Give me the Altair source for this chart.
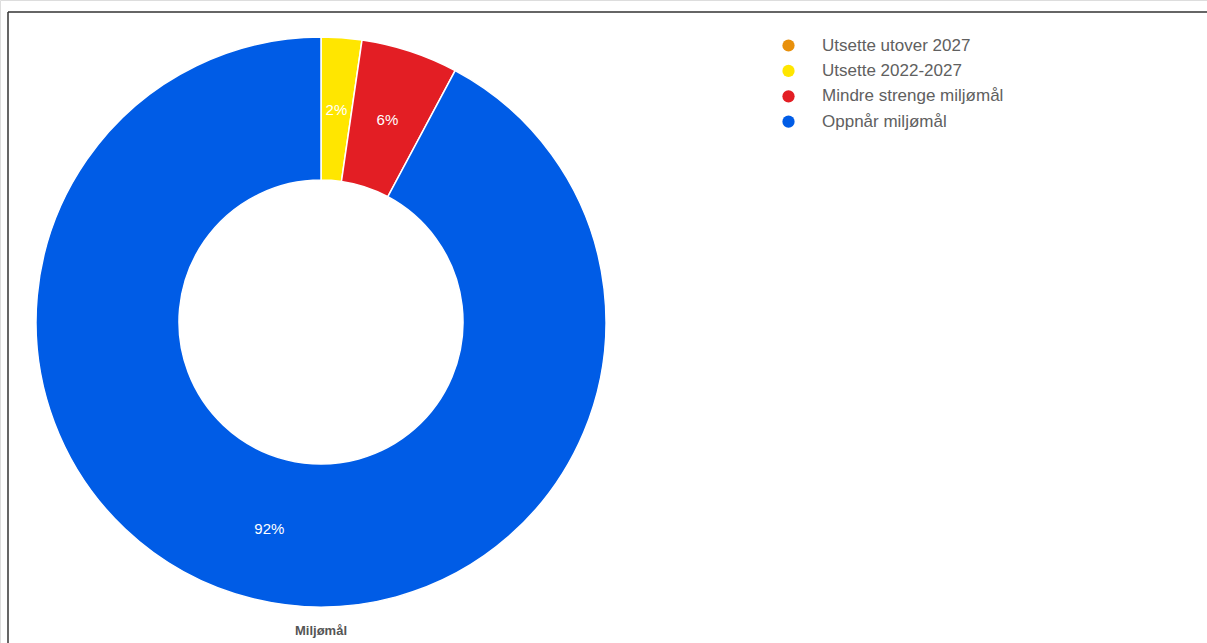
import altair as alt
import pandas as pd

categories = ["Utsette utover 2027", "Utsette 2022-2027", "Mindre strenge miljømål", "Oppnår miljømål"]
shares = [0.0, 2.3, 5.5, 92.2]
labels = ["", "2%", "6%", "92%"]
colors = ["#E8900C", "#FFE600", "#E31E24", "#005CE6"]
axis_title = "Miljømål"

df = pd.DataFrame({"kategori": categories, "andel": shares, "etikett": labels,
                   "rekkefolge": list(range(len(categories)))})

W, H = 1207, 643
cx, cy = 321, 322

color = alt.Color("kategori:N",
                  scale=alt.Scale(domain=categories, range=colors),
                  sort=categories,
                  legend=alt.Legend(title=None, orient="none", legendX=780, legendY=37,
                                    symbolType="circle", symbolSize=150, symbolStrokeWidth=0,
                                    labelFont="Liberation Sans", labelFontSize=17,
                                    labelColor="#606060", labelOffset=25, rowPadding=7.4,
                                    padding=0, labelLimit=300))

base = alt.Chart(df).encode(
    theta=alt.Theta("andel:Q", stack=True),
    order=alt.Order("rekkefolge:Q", sort="ascending"),
    x=alt.value(cx), y=alt.value(cy),
)

arcs = base.mark_arc(innerRadius=142, outerRadius=285, stroke="white", strokeWidth=1.5).encode(color=color)

text = base.mark_text(radius=213, font="Liberation Sans", fontSize=15, color="white").encode(
    text="etikett:N")

title_df = pd.DataFrame({"t": [axis_title]})
bottom = alt.Chart(title_df).mark_text(font="Liberation Sans", fontSize=13, fontWeight="bold",
                                       color="#555555").encode(
    text="t:N", x=alt.value(cx), y=alt.value(631))

border_df = pd.DataFrame({"k": [0]})
top_line = alt.Chart(border_df).mark_rule(color="#333333", strokeWidth=1.5).encode(
    x=alt.value(8), x2=alt.value(W), y=alt.value(12))
left_line = alt.Chart(border_df).mark_rule(color="#333333", strokeWidth=1.5).encode(
    x=alt.value(8), y=alt.value(12), y2=alt.value(H))

chart = alt.layer(top_line, left_line, arcs, text, bottom).properties(
    width=W, height=H, padding=0, autosize=alt.AutoSizeParams(type="none")
).configure_view(stroke=None).configure(background="white")

chart.save("out.html", embed_options={"renderer": "svg", "actions": False})
